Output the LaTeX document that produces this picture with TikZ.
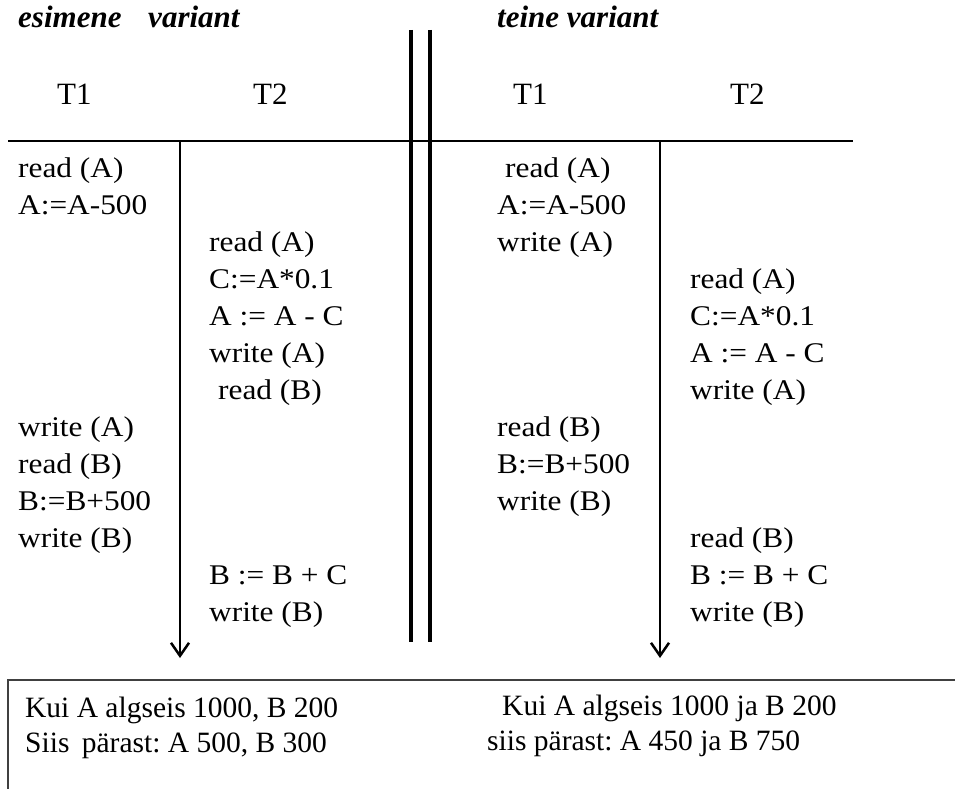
\documentclass[tikz,border=0pt]{standalone}
\usepackage{fontspec}
\setmainfont{Liberation Serif}
\newfontfamily\bodyfont[FakeStretch=1.1]{Liberation Serif}
\usetikzlibrary{arrows.meta}
\frenchspacing

\begin{document}
\begin{tikzpicture}[x=1pt,y=-1pt,
  txt/.style={anchor=base west, inner sep=0pt, font=\bodyfont\fontsize{28.5}{34}\selectfont},
  hdr/.style={anchor=base west, inner sep=0pt, font=\fontsize{31}{37}\selectfont},
  ttl/.style={anchor=base west, inner sep=0pt, font=\bfseries\itshape\fontsize{31}{37}\selectfont},
  note/.style={anchor=base west, inner sep=0pt, font=\fontsize{29.5}{36}\selectfont},
  rule/.style={line width=2pt},
  sep/.style={line width=4pt},
  timeline/.style={line width=2pt, -{Straight Barb[length=13pt,width=18pt,line width=2.5pt]}},
  frame/.style={line width=2.5pt, draw=black!75}]

\useasboundingbox (0,0) rectangle (955,789);

% titles and column heads
\node[ttl] (t1) at (18,28) {esimene\hspace{19pt} variant};
\node[ttl] (t2) at (497,28) {teine variant};
\node[hdr] (h1) at (57,105) {T1};
\node[hdr] (h2) at (253,105) {T2};
\node[hdr] (h3) at (513,105) {T1};
\node[hdr] (h4) at (730,105) {T2};

% header rule and separators
\coordinate (hl) at (8,141);
\coordinate (hr) at (853,141);
\draw[rule] (hl) -- (hr);
\coordinate (s1t) at (411,30);
\coordinate (s1b) at (411,642);
\coordinate (s2t) at (430,30);
\coordinate (s2b) at (430,642);
\draw[sep] (s1t) -- (s1b);
\draw[sep] (s2t) -- (s2b);

% time axes
\coordinate (a1t) at (180,141);
\coordinate (a1b) at (180,658);
\coordinate (a2t) at (660,141);
\coordinate (a2b) at (660,658);
\draw[timeline] (a1t) -- (a1b);
\draw[timeline] (a2t) -- (a2b);

% first schedule
\node[txt] (l0) at (18,177) {read (A)};
\node[txt] (l1) at (18,214) {A:=A-500};
\node[txt] (l2) at (209,251) {read (A)};
\node[txt] (l3) at (209,288) {C:=A*0.1};
\node[txt] (l4) at (209,325) {A := A - C};
\node[txt] (l5) at (209,362) {write (A)};
\node[txt] (l6) at (218,399) {read (B)};
\node[txt] (l7) at (18,436) {write (A)};
\node[txt] (l8) at (18,473) {read (B)};
\node[txt] (l9) at (18,510) {B:=B+500};
\node[txt] (l10) at (18,547) {write (B)};
\node[txt] (l11) at (209,584) {B := B + C};
\node[txt] (l12) at (209,621) {write (B)};

% second schedule
\node[txt] (r0) at (505,177) {read (A)};
\node[txt] (r1) at (497,214) {A:=A-500};
\node[txt] (r2) at (497,251) {write (A)};
\node[txt] (r3) at (690,288) {read (A)};
\node[txt] (r4) at (690,325) {C:=A*0.1};
\node[txt] (r5) at (690,362) {A := A - C};
\node[txt] (r6) at (690,399) {write (A)};
\node[txt] (r7) at (497,436) {read (B)};
\node[txt] (r8) at (497,473) {B:=B+500};
\node[txt] (r9) at (497,510) {write (B)};
\node[txt] (r10) at (690,547) {read (B)};
\node[txt] (r11) at (690,584) {B := B + C};
\node[txt] (r12) at (690,621) {write (B)};

% results frame
\coordinate (fb) at (8,800);
\coordinate (fc) at (8,680);
\coordinate (fr) at (965,680);
\draw[frame] (fb) -- (fc) -- (fr);
\node[note] (n1) at (25,717) {Kui A algseis 1000, B 200};
\node[note] (n2) at (25,752) {Siis\hspace{5pt} pärast: A 500, B 300};
\node[note] (n3) at (502,715) {Kui A algseis 1000 ja B 200};
\node[note] (n4) at (487,750) {siis pärast: A 450 ja B 750};
\end{tikzpicture}
\end{document}
